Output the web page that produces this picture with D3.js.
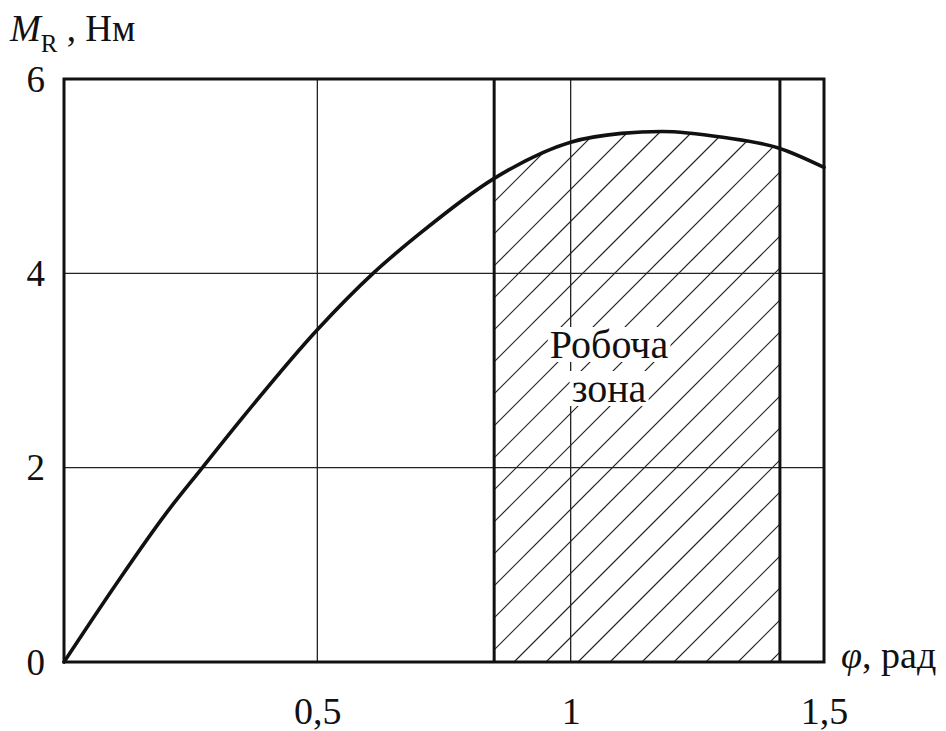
<!DOCTYPE html>
<html>
<head>
<meta charset="utf-8">
<script src="https://cdn.jsdelivr.net/npm/d3@7"></script>
<style>
  body { margin: 0; background: #fff; }
  text { font-family: "Liberation Serif", "Times New Roman", serif; fill: #111; }
</style>
</head>
<body>
<svg id="chart" width="946" height="731"></svg>
<script>
// curve M_R(phi)
const phi = [0, 0.1, 0.2, 0.27, 0.35, 0.5, 0.61, 0.7, 0.85, 1.0, 1.1, 1.18, 1.3, 1.41, 1.5];
const moment = [0, 0.78, 1.52, 1.98, 2.5, 3.42, 4.0, 4.4, 4.98, 5.35, 5.44, 5.46, 5.4, 5.29, 5.09];

const xTicks = [0.5, 1, 1.5];
const xTickLabels = ['0,5', '1', '1,5'];
const yTicks = [0, 2, 4, 6];
const zone = [0.849, 1.413]; // working zone bounds

const svg = d3.select('#chart');

const x = d3.scaleLinear().domain([0, 1.5]).range([64, 824]);
const y = d3.scaleLinear().domain([0, 6]).range([662, 79]);

const data = phi.map((p, i) => ({ p: p, m: moment[i] }));

const line = d3.line()
  .x(d => x(d.p))
  .y(d => y(d.m))
  .curve(d3.curveMonotoneX);

// hatched area under the curve inside the zone
const area = d3.area()
  .x(d => x(d.p))
  .y0(y(0))
  .y1(d => y(d.m))
  .curve(d3.curveMonotoneX);

const defs = svg.append('defs');
defs.append('clipPath').attr('id', 'zoneClip')
  .append('rect')
  .attr('x', x(zone[0]))
  .attr('y', y(6))
  .attr('width', x(zone[1]) - x(zone[0]))
  .attr('height', y(0) - y(6));
defs.append('clipPath').attr('id', 'areaClip')
  .append('path')
  .attr('d', area(data));

const hatch = svg.append('g')
  .attr('clip-path', 'url(#zoneClip)')
  .append('g')
  .attr('clip-path', 'url(#areaClip)');

// lines x + y = c, 45 degrees, ~32px apart horizontally
const hatchOffsets = d3.range(-20, 40);
hatch.selectAll('line')
  .data(hatchOffsets)
  .enter()
  .append('line')
  .attr('x1', k => 1176 + 32 * k - 700)
  .attr('y1', 700)
  .attr('x2', k => 1176 + 32 * k)
  .attr('y2', 0)
  .attr('stroke', '#222')
  .attr('stroke-width', 1.2);

// grid
svg.append('g').selectAll('line')
  .data([0.5, 1])
  .enter()
  .append('line')
  .attr('x1', d => x(d)).attr('x2', d => x(d))
  .attr('y1', y(0)).attr('y2', y(6))
  .attr('stroke', '#222').attr('stroke-width', 1.3);

svg.append('g').selectAll('line')
  .data([2, 4])
  .enter()
  .append('line')
  .attr('x1', x(0)).attr('x2', x(1.5))
  .attr('y1', d => y(d)).attr('y2', d => y(d))
  .attr('stroke', '#222').attr('stroke-width', 1.3);

// zone label with white boxes
const label = svg.append('g');
const labelLines = [{ t: 'Робоча', yy: 358 }, { t: 'зона', yy: 402 }];
const labelTexts = label.selectAll('text')
  .data(labelLines)
  .enter()
  .append('text')
  .attr('x', 609)
  .attr('y', d => d.yy)
  .attr('text-anchor', 'middle')
  .attr('font-size', 40)
  .text(d => d.t);
labelTexts.each(function () {
  const b = this.getBBox();
  label.insert('rect', 'text')
    .attr('x', b.x - 2).attr('y', b.y + 5)
    .attr('width', b.width + 4).attr('height', b.height - 10)
    .attr('fill', '#fff');
});

// zone bounds
svg.append('g').selectAll('line')
  .data(zone)
  .enter()
  .append('line')
  .attr('x1', d => x(d)).attr('x2', d => x(d))
  .attr('y1', y(0)).attr('y2', y(6))
  .attr('stroke', '#111').attr('stroke-width', 3);

// frame
svg.append('rect')
  .attr('x', x(0)).attr('y', y(6))
  .attr('width', x(1.5) - x(0)).attr('height', y(0) - y(6))
  .attr('fill', 'none')
  .attr('stroke', '#111')
  .attr('stroke-width', 3);

// curve
svg.append('path')
  .attr('d', line(data))
  .attr('fill', 'none')
  .attr('stroke', '#111')
  .attr('stroke-width', 3.6)
  .attr('stroke-linecap', 'round');

// axes labels
const xAxis = d3.axisBottom(x)
  .tickValues(xTicks)
  .tickFormat((d, i) => xTickLabels[i])
  .tickSize(0);
const gx = svg.append('g')
  .attr('transform', 'translate(0,' + 690 + ')')
  .call(xAxis);
gx.select('.domain').remove();
gx.selectAll('text')
  .attr('font-family', '"Liberation Serif", serif')
  .attr('font-size', 38)
  .attr('fill', '#111')
  .attr('dy', 31);

const yAxis = d3.axisLeft(y)
  .tickValues(yTicks)
  .tickFormat(d3.format('d'))
  .tickSize(0);
const gy = svg.append('g')
  .attr('transform', 'translate(' + 45 + ',0)')
  .call(yAxis);
gy.select('.domain').remove();
gy.selectAll('text')
  .attr('font-family', '"Liberation Serif", serif')
  .attr('font-size', 37)
  .attr('fill', '#111')
  .attr('x', 0)
  .attr('dy', '0.33em');

// axis titles
const yTitle = svg.append('text').attr('x', 10).attr('y', 41).attr('font-size', 37);
yTitle.append('tspan').attr('font-style', 'italic').text('M');
yTitle.append('tspan').attr('font-size', 25).attr('dy', 11).text('R');
yTitle.append('tspan').attr('dy', -11).text(' , Нм');

const xTitle = svg.append('text').attr('x', 841).attr('y', 668).attr('font-size', 38);
xTitle.append('tspan').attr('font-style', 'italic').text('φ');
xTitle.append('tspan').text(',  рад');
</script>
</body>
</html>
